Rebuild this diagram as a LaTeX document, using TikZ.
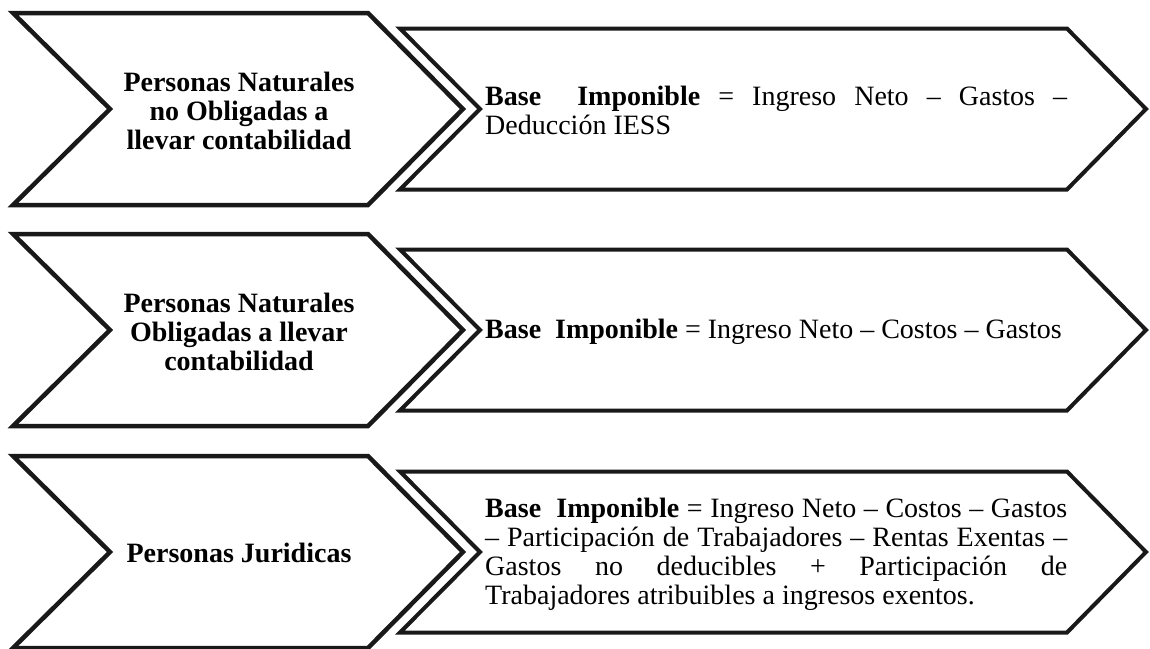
\documentclass[tikz,border=0pt]{standalone}
\usepackage{fontspec}
\setmainfont{Liberation Serif}
\tikzset{
  leftchev/.style={draw=black!90, line width=4.5pt, fill=white, line join=miter},
  rightchev/.style={draw=black!90, line width=4pt, fill=white, line join=miter},
  lefttext/.style={font=\fontsize{28}{29}\selectfont\bfseries, inner sep=0pt},
  righttext/.style={font=\fontsize{28}{29}\selectfont, inner sep=0pt, anchor=west},
}
\newcommand\mkleftchev[1]{%
  \draw[leftchev] (13,#1-96) -- (368,#1-96) -- (463,#1) -- (368,#1+96) -- (13,#1+96) -- (110,#1) -- cycle;}
\newcommand\mkrightchev[1]{%
  \draw[rightchev] (400,#1-80.5) -- (1067,#1-80.5) -- (1146,#1) -- (1067,#1+80.5) -- (400,#1+80.5) -- (480,#1) -- cycle;}
\newcommand\jline[1]{\makebox[582pt][s]{#1}}
\newcommand\rbox[1]{\parbox{582pt}{\raggedright\setlength\parindent{0pt}#1}}
\newcommand\lbox[1]{\parbox{320pt}{\centering #1}}
\begin{document}
\begin{tikzpicture}[x=1pt,y=-1pt]
\useasboundingbox (0,0) rectangle (1150,648);
% row 1
\mkleftchev{109}
\mkrightchev{109}
\node[lefttext] (l1) at (239,111) {\lbox{Personas Naturales\\no Obligadas a\\llevar contabilidad}};
\node[righttext] (r1) at (485,110) {\rbox{\jline{\textbf{Base\ \ Imponible} = Ingreso Neto -- Gastos --}\\Deducción IESS}};
% row 2
\mkleftchev{330}
\mkrightchev{330}
\node[lefttext] (l2) at (239,332) {\lbox{Personas Naturales\\Obligadas a llevar\\contabilidad}};
\node[righttext] (r2) at (485,332) {\rbox{\textbf{Base\ \ Imponible} = Ingreso Neto -- Costos -- Gastos}};
% row 3
\mkleftchev{552}
\mkrightchev{552}
\node[lefttext] (l3) at (239,553) {\lbox{Personas Juridicas}};
\node[righttext] (r3) at (485,554) {\rbox{\jline{\textbf{Base\ \ Imponible} = Ingreso Neto -- Costos -- Gastos}\\
\jline{-- Participación de Trabajadores -- Rentas Exentas --}\\
\jline{Gastos no deducibles + Participación de}\\
Trabajadores atribuibles a ingresos exentos.}};
\end{tikzpicture}
\end{document}
